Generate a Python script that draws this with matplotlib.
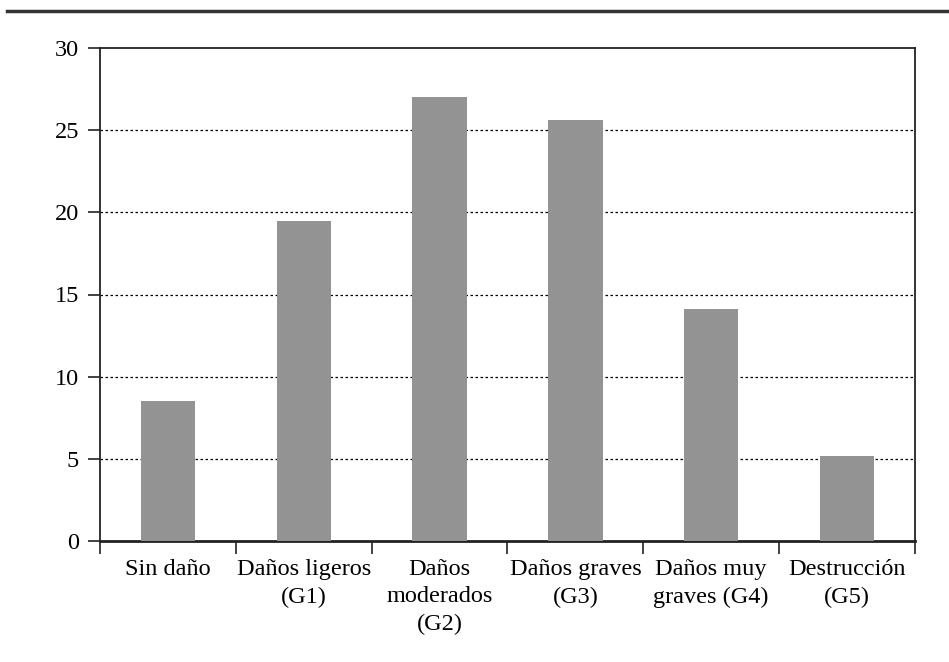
import matplotlib
matplotlib.use("Agg")
import matplotlib.pyplot as plt
from matplotlib.lines import Line2D

categories = ["Sin daño", "Daños ligeros\n(G1)", "Daños\nmoderados\n(G2)",
              "Daños graves\n(G3)", "Daños muy\ngraves (G4)", "Destrucción\n(G5)"]
values = [8.5, 19.5, 27.0, 25.6, 14.1, 5.2]
yticks = [0, 5, 10, 15, 20, 25, 30]

plt.rcParams['font.family'] = ['Liberation Serif', 'DejaVu Serif']

fig = plt.figure(figsize=(9.49, 6.62), dpi=100)
ax = fig.add_axes([100/949, 1-541/662, (915-100)/949, (541-48)/662])

x = list(range(len(categories)))
ax.bar(x, values, width=0.4, color="#939393", zorder=3)

ax.set_xlim(-0.5, len(categories)-0.5)
ax.set_ylim(0, 30)
ax.set_yticks(yticks)
ax.set_yticklabels([str(t) for t in yticks], fontsize=17.5)
for t in yticks[1:-1]:
    ax.axhline(t, color="black", linestyle=(0, (2, 2)), linewidth=0.9, zorder=1)

ax.set_xticks([i - 0.5 for i in range(len(categories)+1)])
ax.set_xticklabels([])
ax.set_xticks(x, minor=True)
ax.set_xticklabels(categories, minor=True, fontsize=17.5, linespacing=1.4, va="top")
ax.tick_params(axis="x", which="major", length=9, width=1.2, direction="out", color="#222222")
ax.tick_params(axis="x", which="minor", length=0, pad=13)
ax.tick_params(axis="y", which="major", length=9, width=1.2, direction="out", color="#222222", pad=6)

for s in ["left", "top", "right"]:
    ax.spines[s].set_linewidth(1.3)
    ax.spines[s].set_color("#222222")
ax.spines["bottom"].set_linewidth(2.0)
ax.spines["bottom"].set_color("#222222")

fig.add_artist(Line2D([7/949, 1.0], [1-11/662, 1-11/662], color="#333333", linewidth=2.5,
                      transform=fig.transFigure))

fig.savefig("out.png", dpi=100)
